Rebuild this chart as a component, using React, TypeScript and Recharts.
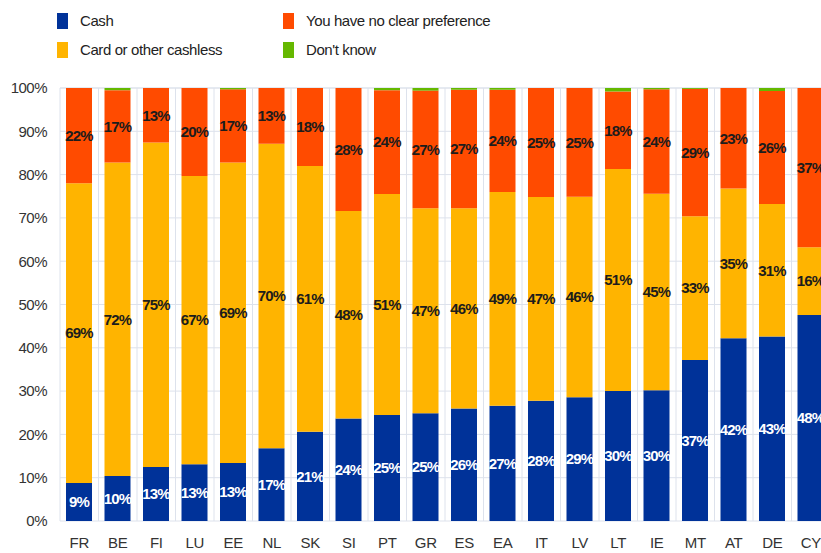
import { Bar, BarChart, CartesianGrid, LabelList, XAxis, YAxis } from 'recharts';

const countries = ['FR', 'BE', 'FI', 'LU', 'EE', 'NL', 'SK', 'SI', 'PT', 'GR', 'ES', 'EA', 'IT', 'LV', 'LT', 'IE', 'MT', 'AT', 'DE', 'CY'];
const cash = [8.8, 10.4, 12.5, 13.1, 13.4, 16.8, 20.6, 23.7, 24.5, 24.9, 26.0, 26.6, 27.8, 28.6, 30.0, 30.2, 37.2, 42.2, 42.6, 47.6];
const cashless = [69.2, 72.4, 74.9, 66.6, 69.4, 70.3, 61.4, 47.9, 51.0, 47.3, 46.2, 49.4, 47.0, 46.3, 51.3, 45.4, 33.2, 34.6, 30.6, 15.6];
const noPreference = [22.0, 16.7, 12.6, 20.3, 16.9, 12.9, 18.0, 28.4, 24.0, 27.2, 27.4, 23.6, 25.2, 25.1, 17.9, 24.1, 29.4, 23.2, 26.1, 36.8];
const dontKnow = [0, 0.5, 0, 0, 0.3, 0, 0, 0, 0.5, 0.6, 0.4, 0.4, 0, 0, 0.8, 0.3, 0.2, 0, 0.7, 0];
const yTicks = [0, 10, 20, 30, 40, 50, 60, 70, 80, 90, 100];

const COLORS = {
  cash: '#003299',
  cashless: '#FFB400',
  noPref: '#FF4B00',
  dontKnow: '#65B800',
};

const FONT = "'Liberation Sans Narrow', 'Arial Narrow', 'Liberation Sans', Arial, sans-serif";

const data = countries.map((c, i) => ({
  country: c,
  cash: cash[i],
  cashless: cashless[i],
  noPref: noPreference[i],
  dontKnow: dontKnow[i],
}));

const legendItems = [
  { label: 'Cash', color: COLORS.cash, left: 57, top: 12 },
  { label: 'Card or other cashless', color: COLORS.cashless, left: 57, top: 41 },
  { label: 'You have no clear preference', color: COLORS.noPref, left: 283, top: 12 },
  { label: "Don't know", color: COLORS.dontKnow, left: 283, top: 41 },
];

const pct = (v: unknown) => `${Math.round(Number(v))}%`;

const labelStyle = { fontFamily: FONT, fontWeight: 700, fontSize: 15, letterSpacing: -0.8 };

export default function App() {
  const n = countries.length;
  return (
    <div style={{ position: 'fixed', left: 0, top: 0, width: 821, height: 553, overflow: 'hidden', background: '#fff' }}>
      {legendItems.map((item) => (
        <div
          key={item.label}
          style={{
            position: 'absolute',
            left: item.left,
            top: item.top,
            display: 'flex',
            alignItems: 'center',
            fontFamily: FONT,
            fontSize: 15,
            letterSpacing: -0.4,
            color: '#222',
          }}
        >
          <span style={{ display: 'inline-block', width: 11, height: 16, background: item.color, marginRight: 12 }} />
          <span>{item.label}</span>
        </div>
      ))}
      <div style={{ position: 'absolute', left: 0, top: 0 }}>
        <BarChart width={840} height={553} data={data} margin={{ top: 88, right: 10, bottom: 2, left: 0 }} barSize={26}>
          <CartesianGrid
            stroke="#dde2ec"
            verticalCoordinatesGenerator={({ offset }: any) =>
              Array.from({ length: n + 1 }, (_, i) => offset.left + (i * offset.width) / n)
            }
          />
          <XAxis
            dataKey="country"
            axisLine={false}
            tickLine={false}
            tickSize={0}
            tickMargin={16}
            height={30}
            interval={0}
            tick={{ fill: '#333', fontFamily: FONT, fontSize: 15, letterSpacing: -0.3 }}
          />
          <YAxis
            domain={[0, 100]}
            ticks={yTicks}
            axisLine={false}
            tickLine={false}
            tickSize={0}
            tickMargin={13}
            width={60}
            tickFormatter={(v) => `${v}%`}
            tick={{ fill: '#333', fontFamily: FONT, fontSize: 15, letterSpacing: -0.5 }}
          />
          <Bar dataKey="cash" stackId="a" fill={COLORS.cash} isAnimationActive={false}>
            <LabelList dataKey="cash" position="center" formatter={pct} fill="#fff" style={labelStyle} />
          </Bar>
          <Bar dataKey="cashless" stackId="a" fill={COLORS.cashless} isAnimationActive={false}>
            <LabelList dataKey="cashless" position="center" formatter={pct} fill="#1c1c1c" style={labelStyle} />
          </Bar>
          <Bar dataKey="noPref" stackId="a" fill={COLORS.noPref} isAnimationActive={false}>
            <LabelList dataKey="noPref" position="center" formatter={pct} fill="#1c1c1c" style={labelStyle} />
          </Bar>
          <Bar dataKey="dontKnow" stackId="a" fill={COLORS.dontKnow} isAnimationActive={false} />
        </BarChart>
      </div>
    </div>
  );
}
